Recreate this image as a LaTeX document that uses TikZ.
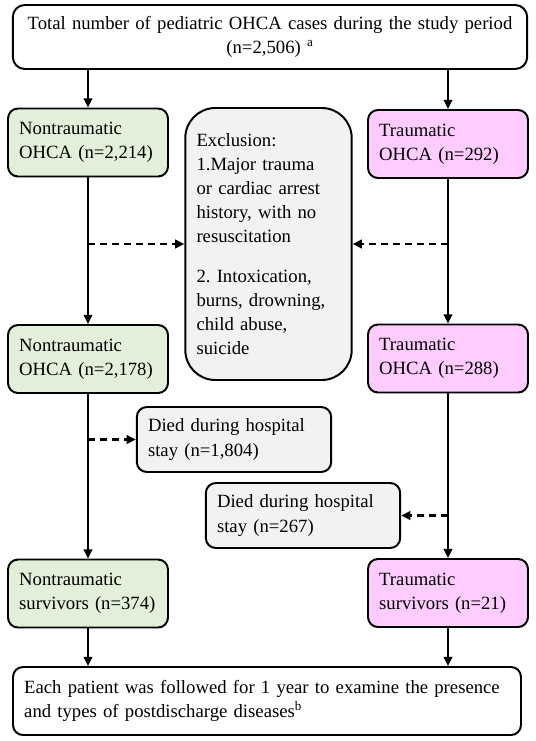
\documentclass[tikz,border=0pt]{standalone}
\usepackage{fontspec}
\setmainfont{Liberation Serif}
\usepackage{xcolor}
\usetikzlibrary{arrows.meta}
\usetikzlibrary{positioning,shapes}
\usetikzlibrary{calc}
\definecolor{ntgreen}{HTML}{E2EFD9}
\definecolor{trpink}{HTML}{FFCCFF}
\definecolor{exgrey}{HTML}{F2F2F2}
\frenchspacing

\begin{document}
\begin{tikzpicture}[line width=1.4pt, font=\fontsize{13.3}{17.2}\selectfont,
		main/.style = {draw, rounded corners=0.25cm, align=left, inner xsep=0.28cm, inner ysep=0pt},
		side/.style = {main, text width=3.44cm, minimum height=1.7cm},
		nt/.style = {side, fill=ntgreen},
		tr/.style = {side, fill=trpink},
		died/.style = {main, fill=exgrey, text width=4.3cm, minimum height=1.625cm},
		solidarrow/.style = {line width=1.8pt, -{Triangle[length=6.5pt,width=6pt]}},
		dasharrow/.style = {solidarrow, dash pattern=on 5pt off 3.5pt}]
		\useasboundingbox (0,0) rectangle (13.4,-18.525);
		\node[main, align=center, text width=12.3cm, minimum height=1.6cm, rounded corners=0.3cm] (total) at (6.75,-0.925) {Total number of pediatric OHCA cases during the study period\\(n=2,506)\ \textsuperscript{a}};
		\node[nt] (n1) at (2.2,-3.5625) {Nontraumatic\\OHCA (n=2,214)};
		\node[tr] (t1) at (11.2,-3.6) {Traumatic\\OHCA (n=292)};
		\node[main, fill=exgrey, rounded corners=0.75cm, text width=3.6cm, minimum height=6.8cm] (excl) at (6.7125,-6.1) {Exclusion:\\1.Major trauma\\or cardiac arrest\\history, with no\\resuscitation\\[0.38cm]2. Intoxication,\\burns, drowning,\\child abuse,\\suicide};
		\node[nt] (n2) at (2.2,-8.975) {Nontraumatic\\OHCA (n=2,178)};
		\node[tr] (t2) at (11.2,-8.9625) {Traumatic\\OHCA (n=288)};
		\node[died] (d1) at (5.85,-10.9875) {Died during hospital\\stay (n=1,804)};
		\node[died] (d2) at (7.575,-12.8875) {Died during hospital\\stay (n=267)};
		\node[nt] (n3) at (2.2,-14.8375) {Nontraumatic\\survivors (n=374)};
		\node[tr] (t3) at (11.2,-14.825) {Traumatic\\survivors (n=21)};
		\node[main, text width=12.14cm, minimum height=1.7cm] (follow) at (6.675,-17.525) {Each patient was followed for 1 year to examine the presence\\and types of postdischarge diseases\textsuperscript{b}};
		\draw[solidarrow] (total.south -| n1) -- (n1.north);
		\draw[solidarrow] (total.south -| t1) -- (t1.north);
		\draw[solidarrow] (n1.south) -- (n2.north);
		\draw[solidarrow] (t1.south) -- (t2.north);
		\draw[solidarrow] (n2.south) -- (n3.north);
		\draw[solidarrow] (t2.south) -- (t3.north);
		\draw[solidarrow] (n3.south) -- (n3.south |- follow.north);
		\draw[solidarrow] (t3.south) -- (t3.south |- follow.north);
		\draw[dasharrow] (n1 |- excl.west) -- (excl.west);
		\draw[dasharrow] (t1 |- excl.east) -- (excl.east);
		\draw[dasharrow] (n2 |- d1.west) -- (d1.west);
		\draw[dasharrow] (t2 |- d2.east) -- (d2.east);
	\end{tikzpicture}
\end{document}
